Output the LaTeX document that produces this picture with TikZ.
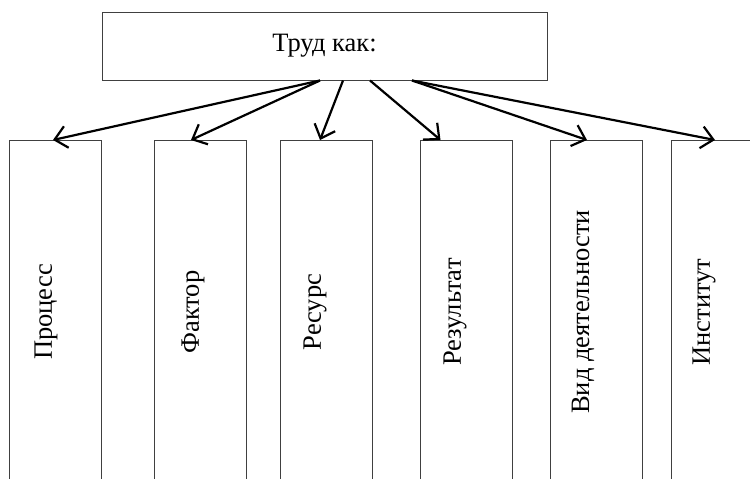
\documentclass[tikz,border=0pt]{standalone}
\usepackage{fontspec}
\setmainfont{Liberation Serif}
\usetikzlibrary{arrows.meta}

\begin{document}
\begin{tikzpicture}[
  x=1pt, y=-1pt,
  font=\fontsize{26.5}{30}\selectfont,
  head/.style={draw=black!75, line width=1pt, minimum width=445pt, minimum height=68pt, inner sep=0pt},
  kind/.style={draw=black!75, line width=1pt, minimum width=92pt, minimum height=400pt, inner sep=0pt, anchor=north},
  vtext/.style={rotate=90, inner sep=0pt},
  flow/.style={-{Straight Barb[length=12pt, width=22pt]}, line width=2.2pt},
]
\useasboundingbox (0,0) rectangle (750,479);
\clip (0,0) rectangle (750,479);

\node[head] (trud) at (324.5,46) {Труд как:};

\node[kind] (proc) at (55.5,140) {};
\node[kind] (fakt) at (200,140) {};
\node[kind] (res) at (326,140) {};
\node[kind] (rez) at (466.5,140) {};
\node[kind] (vid) at (596,140) {};
\node[kind] (inst) at (717,140) {};

\node[vtext] (procT) at (46,312) {Процесс};
\node[vtext] (faktT) at (193,312) {Фактор};
\node[vtext] (resT) at (315,312) {Ресурс};
\node[vtext] (rezT) at (455,312) {Результат};
\node[vtext] (vidT) at (583,312) {Вид деятельности};
\node[vtext] (instT) at (704,312) {Институт};

\draw[flow] ([xshift=-4.5pt]trud.south) -- ([xshift=-2.5pt]proc.north);
\draw[flow] ([xshift=-4.5pt]trud.south) -- ([xshift=-9pt]fakt.north);
\draw[flow] ([xshift=18.5pt]trud.south) -- ([xshift=-6pt]res.north);
\draw[flow] ([xshift=45.5pt]trud.south) -- ([xshift=-26pt]rez.north);
\draw[flow] ([xshift=87.5pt]trud.south) -- ([xshift=-9pt]vid.north);
\draw[flow] ([xshift=87.5pt]trud.south) -- ([xshift=-2pt]inst.north);
\end{tikzpicture}
\end{document}
